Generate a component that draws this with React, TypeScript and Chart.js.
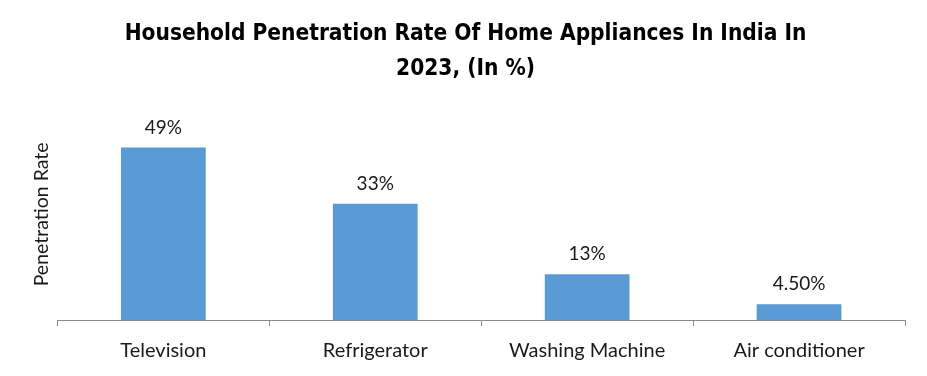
import React, { useEffect, useRef } from "react";
import { Chart, registerables } from "chart.js";

Chart.register(...registerables);

const categories = ["Television", "Refrigerator", "Washing Machine", "Air conditioner"];
const values = [49, 33, 13, 4.5];
const valueLabels = ["49%", "33%", "13%", "4.50%"];
const titleLines = ["Household Penetration Rate Of Home Appliances In India In", "2023, (In %)"];
const yTitle = "Penetration Rate";

const LABEL_FONT = "Lato, 'Liberation Sans', sans-serif";
const TITLE_FONT = "'Liberation Sans Narrow', 'DejaVu Sans Condensed', sans-serif";

const dataLabelPlugin = {
  id: "dataLabels",
  afterDatasetsDraw(chart: any) {
    const ctx = chart.ctx;
    const meta = chart.getDatasetMeta(0);
    ctx.save();
    ctx.font = `19px ${LABEL_FONT}`;
    ctx.fillStyle = "#1a1a1a";
    ctx.textAlign = "center";
    ctx.textBaseline = "middle";
    meta.data.forEach((bar: any, i: number) => {
      ctx.fillText(valueLabels[i], bar.x, bar.y - 20);
    });
    ctx.restore();
  },
};

export default function App() {
  const ref = useRef<HTMLCanvasElement | null>(null);
  useEffect(() => {
    document.body.style.margin = "0";
    const chart = new Chart(ref.current as HTMLCanvasElement, {
      type: "bar",
      data: {
        labels: categories,
        datasets: [
          {
            data: values,
            backgroundColor: "#5B9BD5",
            borderWidth: 0,
            categoryPercentage: 1,
            barPercentage: 0.4,
          },
        ],
      },
      options: {
        animation: false,
        responsive: false,
        devicePixelRatio: 1,
        layout: { padding: { left: 26, right: 22, top: 0, bottom: 0 } },
        plugins: {
          legend: { display: false },
          tooltip: { enabled: false },
          title: {
            display: true,
            text: titleLines,
            color: "#000",
            font: { family: TITLE_FONT, size: 22.5, weight: "bold", lineHeight: 1.55 },
            padding: { top: 17, bottom: 22 },
          },
        },
        scales: {
          x: {
            grid: {
              display: true,
              offset: true,
              drawOnChartArea: false,
              drawTicks: true,
              tickLength: 6,
              color: "#8c8c8c",
            },
            border: { display: true, color: "#8c8c8c" },
            ticks: {
              color: "#1a1a1a",
              padding: 13,
              font: { family: LABEL_FONT, size: 20 },
            },
          },
          y: {
            min: 0,
            max: 60,
            grid: { display: false, drawTicks: false },
            border: { display: false },
            ticks: { display: false },
            title: {
              display: true,
              text: yTitle,
              color: "#1a1a1a",
              font: { family: LABEL_FONT, size: 19.5 },
              padding: { top: 4, bottom: 4 },
            },
          },
        },
      },
      plugins: [dataLabelPlugin],
    });
    return () => chart.destroy();
  }, []);
  return (
    <div style={{ width: 927, height: 376 }}>
      <canvas ref={ref} width={927} height={376} style={{ width: 927, height: 376, display: "block" }} />
    </div>
  );
}
